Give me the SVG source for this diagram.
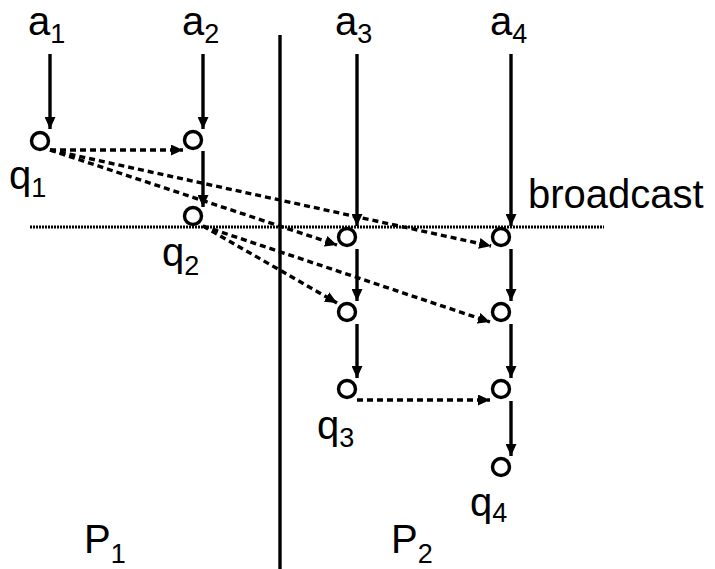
<svg xmlns="http://www.w3.org/2000/svg" width="715" height="569" viewBox="0 0 715 569">
<defs>
<marker id="ah" markerUnits="userSpaceOnUse" markerWidth="12" markerHeight="11" refX="12" refY="5.5" orient="auto">
<path d="M0,0 L12,5.5 L0,11 Z" fill="#000"/>
</marker>
<style>
.t{font-family:"Liberation Sans",Arial,sans-serif;font-size:40px;fill:#000}
.s{font-size:27px}
.n{fill:#fff;stroke:#000;stroke-width:3.4}
.v{stroke:#000;stroke-width:3.4;fill:none;marker-end:url(#ah)}
.d{stroke:#000;stroke-width:3.4;fill:none;stroke-dasharray:6 4;marker-end:url(#ah)}
</style>
</defs>
<rect width="715" height="569" fill="#fff"/>
<line x1="280" y1="35" x2="280" y2="569" stroke="#000" stroke-width="3.4"/>
<line x1="30" y1="227" x2="604" y2="227" stroke="#000" stroke-width="3" stroke-dasharray="2 1"/>
<g id="connectors">
<line class="v" x1="50" y1="54" x2="50" y2="129"/>
<line class="v" x1="203" y1="54" x2="203" y2="129"/>
<line class="v" x1="203" y1="151" x2="203" y2="207"/>
<line class="v" x1="357" y1="54" x2="357" y2="226"/>
<line class="v" x1="511" y1="54" x2="511" y2="226"/>
<line class="v" x1="357" y1="249" x2="357" y2="301"/>
<line class="v" x1="511" y1="249" x2="511" y2="301"/>
<line class="v" x1="357" y1="324" x2="357" y2="378"/>
<line class="v" x1="511" y1="324" x2="511" y2="378"/>
<line class="v" x1="511" y1="401" x2="511" y2="456"/>
<line class="d" x1="50" y1="150" x2="183" y2="150"/>
<line class="d" x1="50" y1="150" x2="491" y2="246"/>
<line class="d" x1="50" y1="150" x2="337" y2="245"/>
<line class="d" x1="203" y1="226" x2="337" y2="303"/>
<line class="d" x1="203" y1="226" x2="490" y2="322"/>
<line class="d" x1="357" y1="400" x2="490" y2="400"/>
</g>
<g id="q1"><circle class="n" cx="40" cy="141" r="8.5"/></g>
<g id="a2node"><circle class="n" cx="193" cy="140" r="8.5"/></g>
<g id="q2"><circle class="n" cx="193" cy="216" r="8.5"/></g>
<g id="a3b"><circle class="n" cx="347" cy="237" r="8.5"/></g>
<g id="a4b"><circle class="n" cx="501" cy="237" r="8.5"/></g>
<g id="a3s"><circle class="n" cx="347" cy="312" r="8.5"/></g>
<g id="a4s"><circle class="n" cx="501" cy="312" r="8.5"/></g>
<g id="q3"><circle class="n" cx="347" cy="389" r="8.5"/></g>
<g id="a4t"><circle class="n" cx="501" cy="389" r="8.5"/></g>
<g id="q4"><circle class="n" cx="501" cy="467" r="8.5"/></g>
<g id="labels">
<text class="t" x="28" y="35">a<tspan class="s" dy="8">1</tspan></text>
<text class="t" x="182" y="35">a<tspan class="s" dy="8">2</tspan></text>
<text class="t" x="335" y="35">a<tspan class="s" dy="8">3</tspan></text>
<text class="t" x="490" y="35">a<tspan class="s" dy="8">4</tspan></text>
<text class="t" x="9" y="189">q<tspan class="s" dy="8">1</tspan></text>
<text class="t" x="162" y="266">q<tspan class="s" dy="9">2</tspan></text>
<text class="t" x="317" y="439">q<tspan class="s" dy="8">3</tspan></text>
<text class="t" x="470" y="516">q<tspan class="s" dy="6">4</tspan></text>
<text class="t" x="84" y="553">P<tspan class="s" dy="10">1</tspan></text>
<text class="t" x="391" y="553">P<tspan class="s" dy="10">2</tspan></text>
<text class="t" x="528" y="208">broadcast</text>
</g>
</svg>
